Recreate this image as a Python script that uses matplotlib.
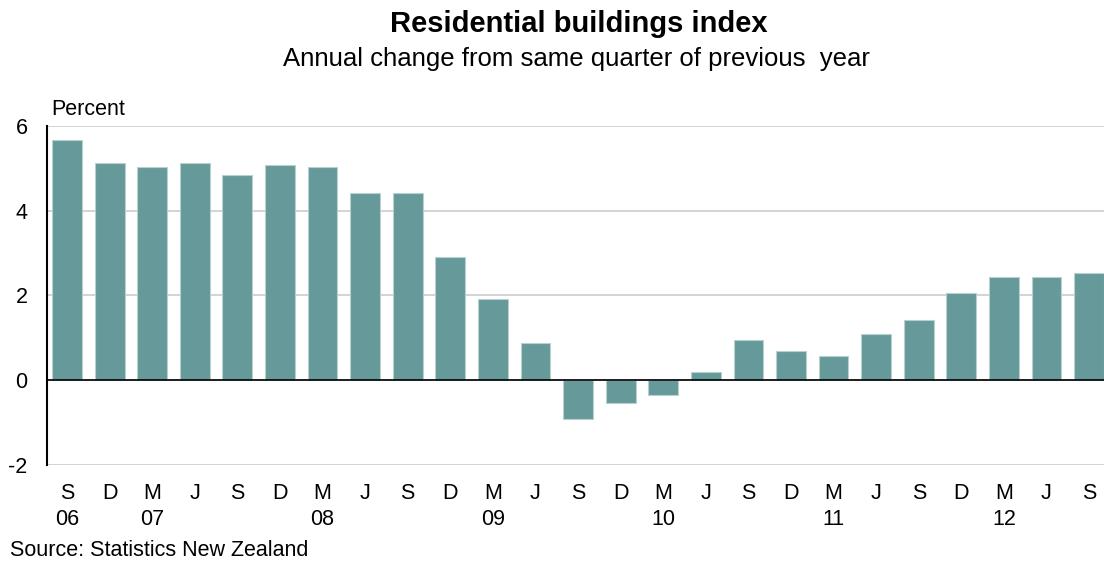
import matplotlib
matplotlib.use("Agg")
import matplotlib.pyplot as plt

# Quarterly annual % change, Sep 2006 - Sep 2012
quarters = ["S", "D", "M", "J"] * 6 + ["S"]
years = {0: "06", 2: "07", 6: "08", 10: "09", 14: "10", 18: "11", 22: "12"}
values = [5.67, 5.12, 5.03, 5.12, 4.84, 5.07, 5.04, 4.42, 4.42, 2.91,
          1.91, 0.87, -0.92, -0.54, -0.35, 0.20, 0.96, 0.68, 0.58, 1.10,
          1.43, 2.05, 2.43, 2.43, 2.52]
yticks = [-2, 0, 2, 4, 6]

plt.rcParams['font.family'] = ['Liberation Sans', 'DejaVu Sans']

fig = plt.figure(figsize=(11.04, 5.62), dpi=100)
ax = fig.add_axes([0.0426, 0.1726, 0.9574, 0.6032])

x = list(range(len(values)))
ax.bar(x, values, width=0.7, color="#669999", edgecolor="#b8d0d0", linewidth=0.8, zorder=3)

ax.set_ylim(-2, 6)
ax.set_xlim(-0.47, 24.35)
ax.set_yticks(yticks)
ax.set_yticklabels([str(t) for t in yticks], fontsize=15.5)
ax.grid(axis="y", color="#cccccc", linewidth=1.2, zorder=0)
ax.axhline(0, color="black", linewidth=1.2, zorder=4)

labels = [q + ("\n" + years[i] if i in years else "\n") for i, q in enumerate(quarters)]
ax.set_xticks(x)
ax.set_xticklabels(labels, fontsize=15.5, linespacing=1.3)
ax.tick_params(axis="x", length=0, pad=13)
ax.tick_params(axis="y", length=0, pad=14)

for s in ["top", "right", "bottom"]:
    ax.spines[s].set_visible(False)
ax.spines["left"].set_linewidth(1.5)
ax.spines["left"].set_color("black")

fig.text(0.524, 0.958, "Residential buildings index", ha="center", va="center",
         fontsize=21, fontweight="bold")
fig.text(0.522, 0.895, "Annual change from same quarter of previous  year", ha="center",
         va="center", fontsize=18.5)
fig.text(0.046, 0.805, "Percent", ha="left", va="center", fontsize=15.5)
fig.text(0.009, 0.02, "Source: Statistics New Zealand", ha="left", va="center", fontsize=15.5)

fig.savefig("out.png", dpi=100)
